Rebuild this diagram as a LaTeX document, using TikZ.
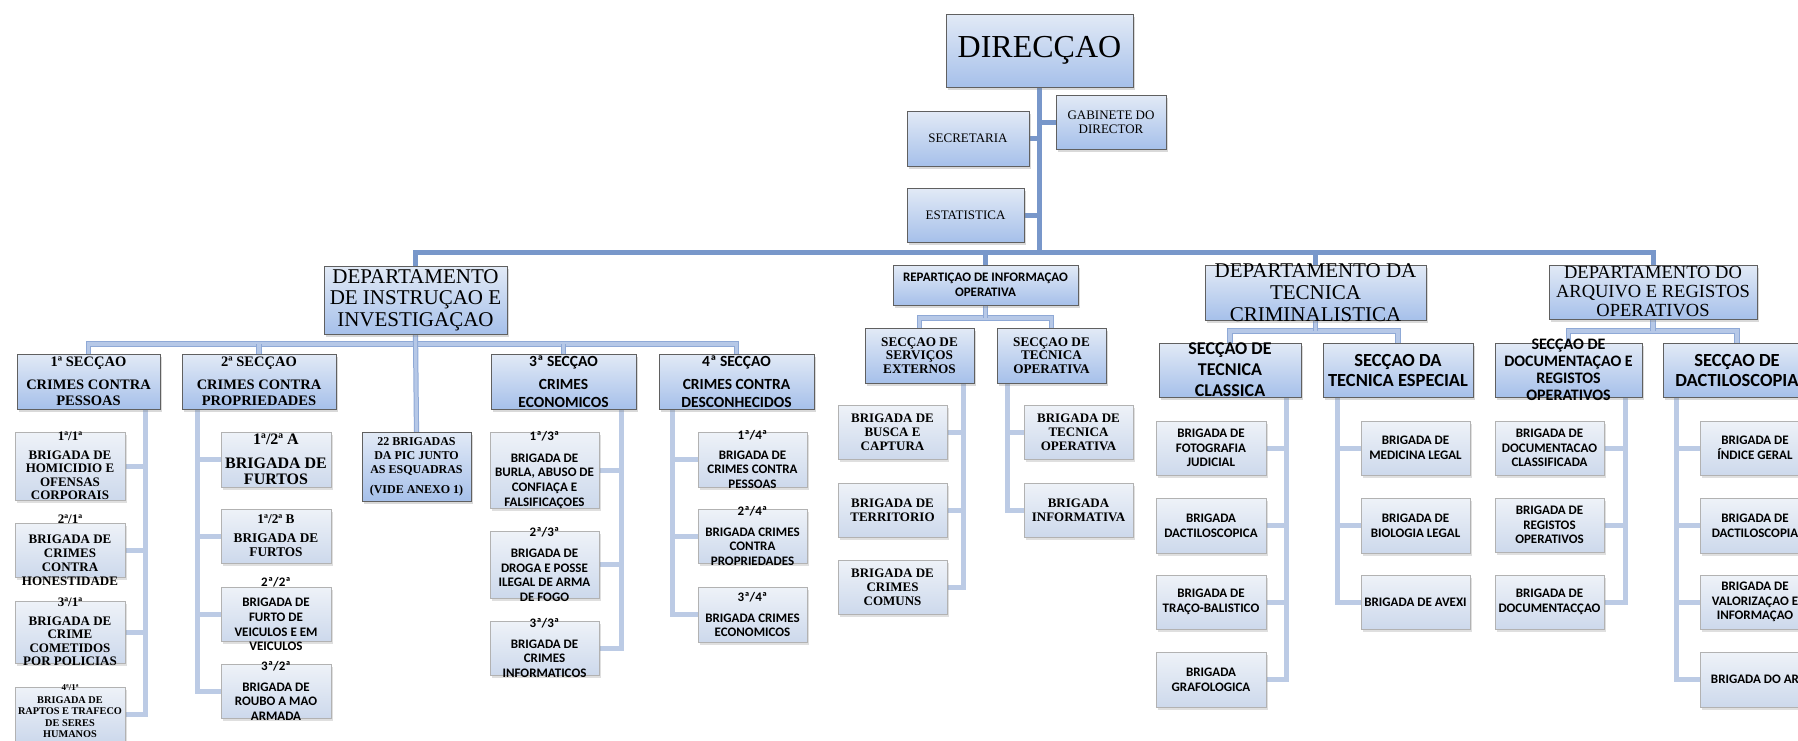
\documentclass[tikz,border=0pt]{standalone}
\usepackage{fontspec}
\setmainfont{Liberation Serif}
\newfontfamily\calib{Carlito}
\usetikzlibrary{shadows,backgrounds}
\definecolor{headtop}{HTML}{E2EAF6}
\definecolor{headbot}{HTML}{A6C0EA}
\definecolor{brigtop}{HTML}{EEF2F8}
\definecolor{brigbot}{HTML}{CDD9EC}
\definecolor{linemain}{HTML}{7897CA}
\definecolor{linelight}{HTML}{BCCBE5}
\definecolor{lineedge}{HTML}{8FA9D6}
\definecolor{linefill}{HTML}{B6C8E7}
\tikzstyle{headbox} = [rectangle, draw=gray!75!black, top color=headtop, bottom color=headbot, inner sep=0pt, drop shadow={opacity=0.3, shadow xshift=2pt, shadow yshift=-3pt}]
\tikzstyle{brigbox} = [rectangle, draw=gray!60, top color=brigtop, bottom color=brigbot, inner sep=0pt, minimum width=110pt, minimum height=54pt, drop shadow={opacity=0.25, shadow xshift=2pt, shadow yshift=-3pt}]
\tikzstyle{topline} = [draw=linemain, line width=5pt]
\tikzstyle{subbus} = [draw=lineedge, double=linefill, double distance=3.2pt, line width=1pt]
\tikzstyle{secline} = [draw=linelight, line width=5pt]
\tikzstyle{serif} = [align=center, font=\fontsize{13}{14}\selectfont]
\tikzstyle{deptxt} = [align=center, font=\fontsize{21}{21.5}\selectfont]
\tikzstyle{serifb} = [align=center, font=\bfseries\fontsize{13}{13.5}\selectfont]
\tikzstyle{secserif} = [align=center, font=\bfseries\fontsize{14.5}{16}\selectfont]
\tikzstyle{sansb} = [align=center, font=\calib\bfseries\fontsize{13}{14.6}\selectfont]
\tikzstyle{secsans} = [align=center, font=\calib\bfseries\fontsize{15.5}{18}\selectfont]
\tikzstyle{bigsans} = [align=center, font=\calib\bfseries\fontsize{18}{21}\selectfont]

\begin{document}
\begin{tikzpicture}[x=1pt,y=-1pt]
  \useasboundingbox (0,0) rectangle (1798,740);
  \clip (0,0) rectangle (1798,740);
  % direccao
  \node[headbox, minimum width=187pt, minimum height=73pt, label={[serif, font=\fontsize{32}{32}\selectfont]center:DIRECÇAO}] (dir) at (1039.5,50.5) {};
  \node[headbox, minimum width=122pt, minimum height=55pt, label={[serif]center:SECRETARIA}] (sec) at (968,138.5) {};
  \node[headbox, minimum width=110pt, minimum height=54pt, label={[serif]center:{GABINETE DO\\DIRECTOR}}] (gab) at (1111,122) {};
  \node[headbox, minimum width=117pt, minimum height=54pt, label={[serif]center:ESTATISTICA}] (est) at (965.5,215) {};
  % departamentos
  \node[headbox, minimum width=183pt, minimum height=68pt, label={[deptxt]center:{DEPARTAMENTO\\DE INSTRUÇAO E\\INVESTIGAÇAO}}] (d1) at (415.5,300) {};
  \node[headbox, minimum width=185pt, minimum height=40pt, label={[sansb]center:{REPARTIÇAO DE INFORMAÇAO\\OPERATIVA}}] (rep) at (985.5,285) {};
  \node[headbox, minimum width=221pt, minimum height=55pt, label={[deptxt, font=\fontsize{21}{21.7}\selectfont]center:{DEPARTAMENTO DA\\TECNICA\\CRIMINALISTICA}}] (d3) at (1315.5,292.5) {};
  \node[headbox, minimum width=208pt, minimum height=54pt, label={[deptxt, font=\fontsize{18.5}{19}\selectfont]center:{DEPARTAMENTO DO\\ARQUIVO E REGISTOS\\OPERATIVOS}}] (d4) at (1653,292) {};

  % departamento de instrucao e investigacao
  \node[headbox, minimum width=143pt, minimum height=55pt, label={[secserif]center:{1ª SECÇAO\\[7pt]CRIMES CONTRA\\PESSOAS}}] (s1) at (88.5,381.5) {};
  \node[headbox, minimum width=154pt, minimum height=55pt, label={[secserif]center:{2ª SECÇAO\\[7pt]CRIMES CONTRA\\PROPRIEDADES}}] (s2) at (259,381.5) {};
  \node[headbox, minimum width=109pt, minimum height=69pt, label={[serifb, font=\bfseries\fontsize{12}{14.3}\selectfont]center:{22 BRIGADAS\\DA PIC JUNTO\\AS ESQUADRAS\\[5pt](VIDE ANEXO 1)}}] (pic) at (416.5,466.5) {};
  \node[headbox, minimum width=145pt, minimum height=55pt, label={[secsans]center:{3ª SECÇAO\\[5pt]CRIMES\\ECONOMICOS}}] (s3) at (563.5,381.5) {};
  \node[headbox, minimum width=155pt, minimum height=55pt, label={[secsans]center:{4ª SECÇAO\\[5pt]CRIMES CONTRA\\DESCONHECIDOS}}] (s4) at (736.5,381.5) {};

  \node[brigbox, minimum height=68pt, label={[serifb]center:{1ª/1ª\\[5pt]BRIGADA DE\\HOMICIDIO E\\OFENSAS\\CORPORAIS}}] (b11) at (70,466) {};
  \node[brigbox, label={[serifb, font=\bfseries\fontsize{13}{14}\selectfont]center:{2ª/1ª\\[6pt]BRIGADA DE\\CRIMES\\CONTRA\\HONESTIDADE}}] (b12) at (70,550) {};
  \node[brigbox, minimum height=62pt, label={[serifb]center:{3ª/1ª\\[5pt]BRIGADA DE\\CRIME\\COMETIDOS\\POR POLICIAS}}] (b13) at (70,632) {};
  \node[brigbox, label={[serifb, font=\bfseries\fontsize{10.3}{11.2}\selectfont, yshift=3pt]center:{{\fontsize{9}{9}\selectfont 4ª/1ª}\\[2pt]BRIGADA DE\\RAPTOS E TRAFECO\\DE SERES\\HUMANOS}}] (b14) at (70,714) {};

  \node[brigbox, minimum height=55pt, label={[serifb, font=\bfseries\fontsize{16}{16.5}\selectfont]center:{1ª/2ª A\\[7pt]BRIGADA DE\\FURTOS}}] (b21) at (276,459.5) {};
  \node[brigbox, label={[serifb, font=\bfseries\fontsize{13.3}{14}\selectfont]center:{1ª/2ª B\\[5pt]BRIGADA DE\\FURTOS}}] (b22) at (276,536) {};
  \node[brigbox, label={[sansb]center:{2ª/2ª\\[6pt]BRIGADA DE\\FURTO DE\\VEICULOS E EM\\VEICULOS}}] (b23) at (276,614) {};
  \node[brigbox, label={[sansb]center:{3ª/2ª\\[6pt]BRIGADA DE\\ROUBO A MAO\\ARMADA}}] (b24) at (276,691) {};

  \node[brigbox, minimum width=109pt, minimum height=76pt, label={[sansb]center:{1ª/3ª\\[7pt]BRIGADA DE\\BURLA, ABUSO DE\\CONFIAÇA E\\FALSIFICAÇOES}}] (b31) at (544.5,470) {};
  \node[brigbox, minimum width=109pt, minimum height=67pt, label={[sansb]center:{2ª/3ª\\[6pt]BRIGADA DE\\DROGA E POSSE\\ILEGAL DE ARMA\\DE FOGO}}] (b32) at (544.5,564.5) {};
  \node[brigbox, minimum width=109pt, label={[sansb]center:{3ª/3ª\\[6pt]BRIGADA DE\\CRIMES\\INFORMATICOS}}] (b33) at (544.5,648) {};

  \node[brigbox, minimum width=109pt, minimum height=55pt, label={[sansb]center:{1ª/4ª\\[5pt]BRIGADA DE\\CRIMES CONTRA\\PESSOAS}}] (b41) at (752.5,459.5) {};
  \node[brigbox, minimum width=109pt, label={[sansb]center:{2ª/4ª\\[6pt]BRIGADA CRIMES\\CONTRA\\PROPRIEDADES}}] (b42) at (752.5,536) {};
  \node[brigbox, minimum width=109pt, minimum height=55pt, label={[sansb]center:{3ª/4ª\\[6pt]BRIGADA CRIMES\\ECONOMICOS}}] (b43) at (752.5,614.5) {};

  % reparticao de informacao operativa
  \node[headbox, minimum width=109pt, minimum height=55pt, label={[serifb, font=\bfseries\fontsize{13.2}{13.4}\selectfont]center:{SECÇAO DE\\SERVIÇOS\\EXTERNOS}}] (sx) at (919.5,355.5) {};
  \node[headbox, minimum width=109pt, minimum height=55pt, label={[serifb, font=\bfseries\fontsize{13.2}{13.4}\selectfont]center:{SECÇAO DE\\TECNICA\\OPERATIVA}}] (st) at (1051.5,355.5) {};
  \node[brigbox, minimum width=109pt, label={[serifb, font=\bfseries\fontsize{13}{14}\selectfont]center:{BRIGADA DE\\BUSCA E\\CAPTURA}}] (bx1) at (892.5,432) {};
  \node[brigbox, minimum width=109pt, label={[serifb, font=\bfseries\fontsize{13}{14}\selectfont]center:{BRIGADA DE\\TERRITORIO}}] (bx2) at (892.5,510) {};
  \node[brigbox, minimum width=109pt, label={[serifb, font=\bfseries\fontsize{13}{14}\selectfont]center:{BRIGADA DE\\CRIMES\\COMUNS}}] (bx3) at (892.5,587) {};
  \node[brigbox, minimum width=109pt, label={[serifb, font=\bfseries\fontsize{13}{14}\selectfont]center:{BRIGADA DE\\TECNICA\\OPERATIVA}}] (bt1) at (1078.5,432) {};
  \node[brigbox, minimum width=109pt, label={[serifb, font=\bfseries\fontsize{13}{14}\selectfont]center:{BRIGADA\\INFORMATIVA}}] (bt2) at (1078.5,510) {};

  % departamento da tecnica criminalistica
  \node[headbox, minimum width=142pt, minimum height=54pt, label={[bigsans]center:{SECÇAO DE\\TECNICA\\CLASSICA}}] (sc) at (1230,370) {};
  \node[headbox, minimum width=150pt, minimum height=54pt, label={[bigsans, font=\calib\bfseries\fontsize{18.5}{20}\selectfont]center:{SECÇAO DA\\TECNICA ESPECIAL}}] (se) at (1398,370) {};
  \node[brigbox, label={[sansb]center:{BRIGADA DE\\FOTOGRAFIA\\JUDICIAL}}] (bc1) at (1211,448) {};
  \node[brigbox, minimum height=55pt, label={[sansb]center:{BRIGADA\\DACTILOSCOPICA}}] (bc2) at (1211,525.5) {};
  \node[brigbox, label={[sansb]center:{BRIGADA DE\\TRAÇO-BALISTICO}}] (bc3) at (1211,602) {};
  \node[brigbox, minimum height=55pt, label={[sansb]center:{BRIGADA\\GRAFOLOGICA}}] (bc4) at (1211,679.5) {};
  \node[brigbox, minimum width=109pt, label={[sansb]center:{BRIGADA DE\\MEDICINA LEGAL}}] (be1) at (1415.5,448) {};
  \node[brigbox, minimum width=109pt, minimum height=55pt, label={[sansb]center:{BRIGADA DE\\BIOLOGIA LEGAL}}] (be2) at (1415.5,525.5) {};
  \node[brigbox, minimum width=109pt, label={[sansb]center:{BRIGADA DE AVEXI}}] (be3) at (1415.5,602) {};

  % departamento do arquivo e registos operativos
  \node[headbox, minimum width=147pt, minimum height=54pt, label={[bigsans, font=\calib\bfseries\fontsize{16}{17}\selectfont]center:{SECÇAO DE\\DOCUMENTAÇAO E\\REGISTOS\\OPERATIVOS}}] (sd) at (1568.5,370) {};
  \node[headbox, minimum width=148pt, minimum height=54pt, label={[bigsans, font=\calib\bfseries\fontsize{18.5}{20}\selectfont]center:{SECÇAO DE\\DACTILOSCOPIA}}] (sy) at (1737,370) {};
  \node[brigbox, minimum width=109pt, label={[sansb]center:{BRIGADA DE\\DOCUMENTACAO\\CLASSIFICADA}}] (bd1) at (1549.5,448) {};
  \node[brigbox, minimum width=109pt, label={[sansb]center:{BRIGADA DE\\REGISTOS\\OPERATIVOS}}] (bd2) at (1549.5,525) {};
  \node[brigbox, minimum width=109pt, label={[sansb]center:{BRIGADA DE\\DOCUMENTACÇAO}}] (bd3) at (1549.5,602) {};
  \node[brigbox, label={[sansb]center:{BRIGADA DE\\ÍNDICE GERAL}}] (by1) at (1755,448) {};
  \node[brigbox, minimum height=55pt, label={[sansb]center:{BRIGADA DE\\DACTILOSCOPIA}}] (by2) at (1755,525.5) {};
  \node[brigbox, label={[sansb]center:{BRIGADA DE\\VALORIZAÇAO E\\INFORMAÇAO}}] (by3) at (1755,602) {};
  \node[brigbox, minimum height=55pt, label={[sansb]center:{BRIGADA DO AR}}] (by4) at (1755,679.5) {};

  \begin{scope}[on background layer]
    % ligacoes da direccao
    \coordinate (bus) at (1039.5,252);
    \draw[topline] (dir.south) -- (bus);
    \draw[topline] (sec.east) -- (sec.east -| dir.south);
    \draw[topline] (est.east) -- (est.east -| dir.south);
    \draw[topline] (gab.west) -- (gab.west -| dir.south);
    \draw[topline] (d1.north) |- (bus) -| (d4.north);
    \foreach \nd in {rep,d3} \draw[topline] (\nd.north) -- (\nd.north |- bus);

    % seccoes do departamento de instrucao
    \coordinate (d1bus) at (415.5,344);
    \draw[subbus] (s1.north) |- (d1bus) -| (s4.north);
    \draw[subbus] (d1.south) -- (pic.north);
    \foreach \ns in {s2,s3} \draw[subbus] (\ns.north) -- (\ns.north |- d1bus);
    \coordinate (s1v) at ([xshift=-15pt]s1.south east);
    \draw[secline] (s1v) |- (b14.east);
    \foreach \br in {b11,b12,b13} \draw[secline] (\br.east) -- (\br.east -| s1v);
    \coordinate (s2v) at ([xshift=16pt]s2.south west);
    \draw[secline] (s2v) |- (b24.west);
    \foreach \br in {b21,b22,b23} \draw[secline] (\br.west) -- (\br.west -| s2v);
    \coordinate (s3v) at ([xshift=-15pt]s3.south east);
    \draw[secline] (s3v) |- (b33.east);
    \foreach \br in {b31,b32} \draw[secline] (\br.east) -- (\br.east -| s3v);
    \coordinate (s4v) at ([xshift=14pt]s4.south west);
    \draw[secline] (s4v) |- (b43.west);
    \foreach \br in {b41,b42} \draw[secline] (\br.west) -- (\br.west -| s4v);

    % reparticao
    \coordinate (repbus) at (985.5,318);
    \draw[subbus] (sx.north) |- (repbus) -| (st.north);
    \draw[subbus] (rep.south) -- (repbus);
    \coordinate (sxv) at ([xshift=-11pt]sx.south east);
    \draw[secline] (sxv) |- (bx3.east);
    \foreach \br in {bx1,bx2} \draw[secline] (\br.east) -- (\br.east -| sxv);
    \coordinate (stv) at ([xshift=11pt]st.south west);
    \draw[secline] (stv) |- (bt2.west);
    \draw[secline] (bt1.west) -- (bt1.west -| stv);

    % tecnica criminalistica
    \coordinate (d3bus) at (1315.5,331);
    \draw[subbus] (sc.north) |- (d3bus) -| (se.north);
    \draw[subbus] (d3.south) -- (d3bus);
    \coordinate (scv) at ([xshift=-15pt]sc.south east);
    \draw[secline] (scv) |- (bc4.east);
    \foreach \br in {bc1,bc2,bc3} \draw[secline] (\br.east) -- (\br.east -| scv);
    \coordinate (sev) at ([xshift=15pt]se.south west);
    \draw[secline] (sev) |- (be3.west);
    \foreach \br in {be1,be2} \draw[secline] (\br.west) -- (\br.west -| sev);

    % arquivo e registos
    \coordinate (d4bus) at (1653,331);
    \draw[subbus] (sd.north) |- (d4bus) -| (sy.north);
    \draw[subbus] (d4.south) -- (d4bus);
    \coordinate (sdv) at ([xshift=-17pt]sd.south east);
    \draw[secline] (sdv) |- (bd3.east);
    \foreach \br in {bd1,bd2} \draw[secline] (\br.east) -- (\br.east -| sdv);
    \coordinate (syv) at ([xshift=14pt]sy.south west);
    \draw[secline] (syv) |- (by4.west);
    \foreach \br in {by1,by2,by3} \draw[secline] (\br.west) -- (\br.west -| syv);
  \end{scope}
\end{tikzpicture}
\end{document}
